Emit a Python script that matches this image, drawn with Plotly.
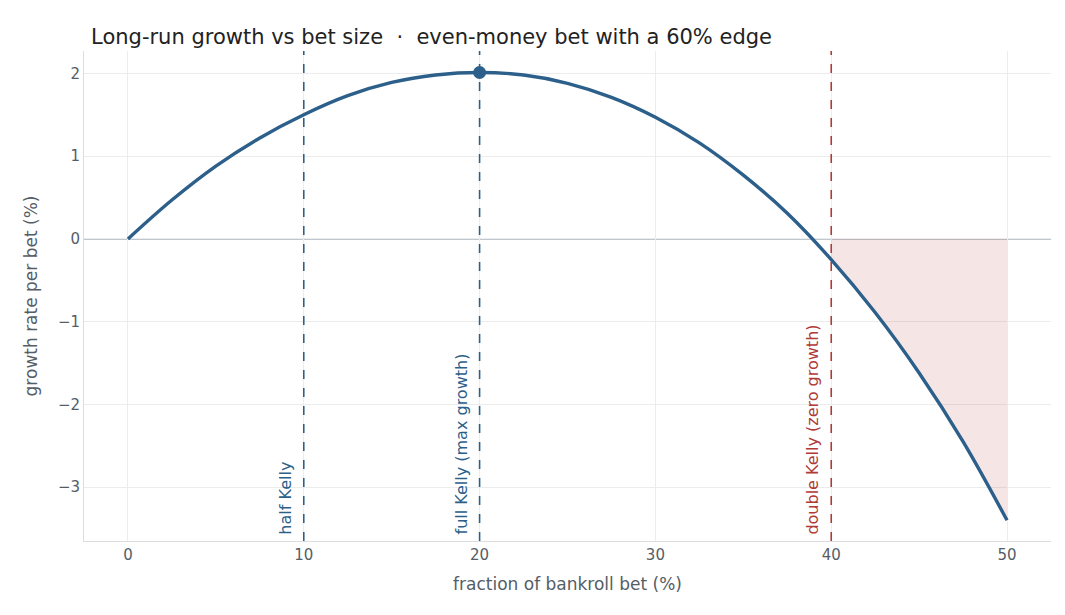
import plotly.graph_objects as go

# values (bet fraction %, growth %)
frac = [0, 2.5, 5, 7.5, 10, 12.5, 15, 17.5, 20, 22.5, 25, 27.5, 30, 32.5, 35, 37.5, 40, 42.5, 45, 47.5, 50]
growth = [0, 0.47, 0.88, 1.22, 1.50, 1.73, 1.89, 1.98, 2.01, 1.98, 1.88, 1.71, 1.47, 1.16, 0.77, 0.31,
          -0.25, -0.89, -1.62, -2.45, -3.40]
kelly_x = [10, 20, 40]
kelly_labels = ["half Kelly", "full Kelly (max growth)", "double Kelly (zero growth)"]
kelly_colors = ["#2c5f8a", "#2c5f8a", "#b03a35"]
peak_x, peak_y = 20, 2.01

blue = "#2c5f8a"
fig = go.Figure()

fx = [x for x in frac if x >= 40]
fy = [y for x, y in zip(frac, growth) if x >= 40]
fig.add_trace(go.Scatter(x=fx, y=[0] * len(fx), mode="lines", line=dict(width=0),
                         showlegend=False, hoverinfo="skip"))
fig.add_trace(go.Scatter(x=fx, y=fy, mode="lines", line=dict(width=0, shape="spline"),
                         fill="tonexty", fillcolor="rgba(176,58,53,0.13)",
                         showlegend=False, hoverinfo="skip"))
fig.add_trace(go.Scatter(x=frac, y=growth, mode="lines",
                         line=dict(color=blue, width=3.4, shape="spline"), showlegend=False))
fig.add_trace(go.Scatter(x=[peak_x], y=[peak_y], mode="markers",
                         marker=dict(color=blue, size=13), showlegend=False))

fig.add_hline(y=0, line=dict(color="#a9b4bf", width=1.5), layer="below")
for x, lab, c in zip(kelly_x, kelly_labels, kelly_colors):
    fig.add_vline(x=x, line=dict(color=c, width=1.6, dash="dash"))
    fig.add_annotation(x=x, xshift=-7, y=-3.6, text=lab, textangle=-90, showarrow=False,
                       xanchor="right", yanchor="bottom", font=dict(color=c, size=16))

fig.update_layout(
    width=1065, height=615, plot_bgcolor="white", paper_bgcolor="white",
    font=dict(family="DejaVu Sans", color="#555d66", size=15),
    title=dict(text="Long-run growth vs bet size  ·  even-money bet with a 60% edge",
               x=0.078, y=0.965, xanchor="left", font=dict(size=21, color="#222")),
    margin=dict(l=76, r=22, t=43, b=82),
    xaxis=dict(title=dict(text="fraction of bankroll bet (%)", font=dict(size=17)),
               range=[-2.5, 52.5], tickvals=[0, 10, 20, 30, 40, 50],
               gridcolor="#ececec", showline=True, linecolor="#dddddd", zeroline=False, ticks=""),
    yaxis=dict(title=dict(text="growth rate per bet (%)", font=dict(size=17)),
               range=[-3.65, 2.27], tickvals=[-3, -2, -1, 0, 1, 2],
               ticktext=["−3", "−2", "−1", "0", "1", "2"],
               gridcolor="#ececec", showline=True, linecolor="#dddddd", zeroline=False, ticks=""),
)
fig.write_html("out.html")
